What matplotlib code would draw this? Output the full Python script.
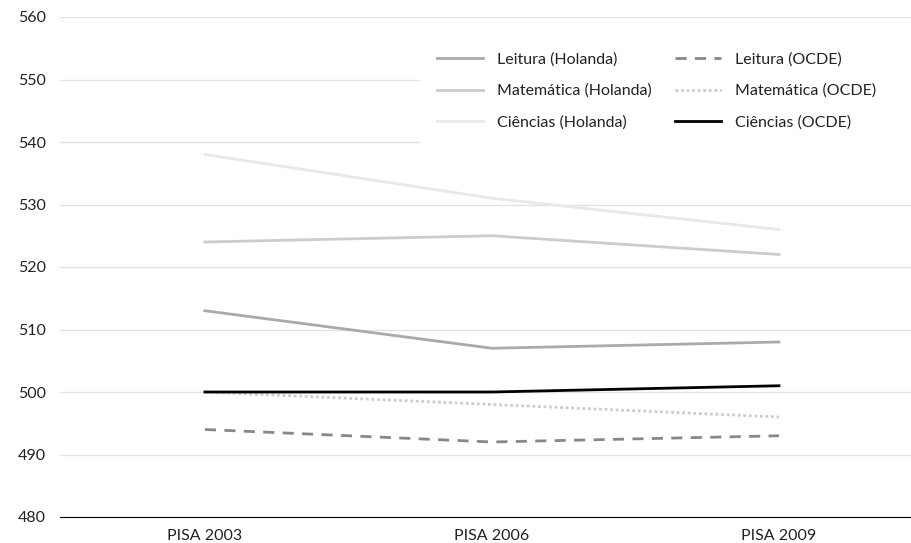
import matplotlib
matplotlib.use("Agg")
import matplotlib.pyplot as plt
from matplotlib.patches import Rectangle

plt.rcParams['font.family'] = ['Lato', 'DejaVu Sans']

categorias = ["PISA 2003", "PISA 2006", "PISA 2009"]

leitura_hol = [513, 507, 508]
matematica_hol = [524, 525, 522]
ciencias_hol = [538, 531, 526]
leitura_ocde = [494, 492, 493]
matematica_ocde = [500, 498, 496]
ciencias_ocde = [500, 500, 501]

W, H = 911, 543
fig = plt.figure(figsize=(W / 100, H / 100), dpi=100)
ax = fig.add_axes([60 / W, 1 - 517 / H, 851 / W, 500 / H])

x = list(range(len(categorias)))

l1, = ax.plot(x, leitura_hol, color="#aaaaaa", lw=2, label="Leitura (Holanda)")
l2, = ax.plot(x, matematica_hol, color="#cccccc", lw=2, label="Matemática (Holanda)")
l3, = ax.plot(x, ciencias_hol, color="#e8e8e8", lw=2, label="Ciências (Holanda)")
l4, = ax.plot(x, leitura_ocde, color="#888888", lw=2, ls=(0, (4, 3)), label="Leitura (OCDE)")
l5, = ax.plot(x, matematica_ocde, color="#cccccc", lw=2, ls=(0, (1, 1)), label="Matemática (OCDE)")
l6, = ax.plot(x, ciencias_ocde, color="#000000", lw=2, label="Ciências (OCDE)")

ax.set_ylim(480, 560)
ax.set_xlim(-0.505, 2.46)
ax.set_yticks(range(480, 561, 10))
ax.set_xticks(x)
ax.set_xticklabels(categorias)
ax.grid(axis="y", color="#e3e3e3", lw=1)
ax.set_axisbelow(True)
for s in ["top", "right", "left"]:
    ax.spines[s].set_visible(False)
ax.spines["bottom"].set_color("black")
ax.tick_params(axis="both", length=0, labelsize=11.5, colors="#222222")
ax.tick_params(axis="y", pad=10)
ax.tick_params(axis="x", pad=9)

# white box behind the legend hides the grid lines there
ax.add_patch(Rectangle((420 / W, 1 - 150 / H), (W - 420) / W, 120 / H,
                       transform=fig.transFigure, facecolor="white",
                       edgecolor="none", zorder=1.5, clip_on=False))

leg_kw = dict(loc="center left", bbox_transform=fig.transFigure, frameon=False,
              fontsize=11.5, handlelength=2.9, handletextpad=0.85,
              labelspacing=1.1, borderpad=0, borderaxespad=0, labelcolor="#222222")
leg1 = ax.legend(handles=[l1, l2, l3], bbox_to_anchor=(437 / W, 1 - 91 / H), **leg_kw)
ax.add_artist(leg1)
leg2 = ax.legend(handles=[l4, l5, l6], bbox_to_anchor=(675 / W, 1 - 91 / H), **leg_kw)

fig.savefig("out.png", dpi=100)
